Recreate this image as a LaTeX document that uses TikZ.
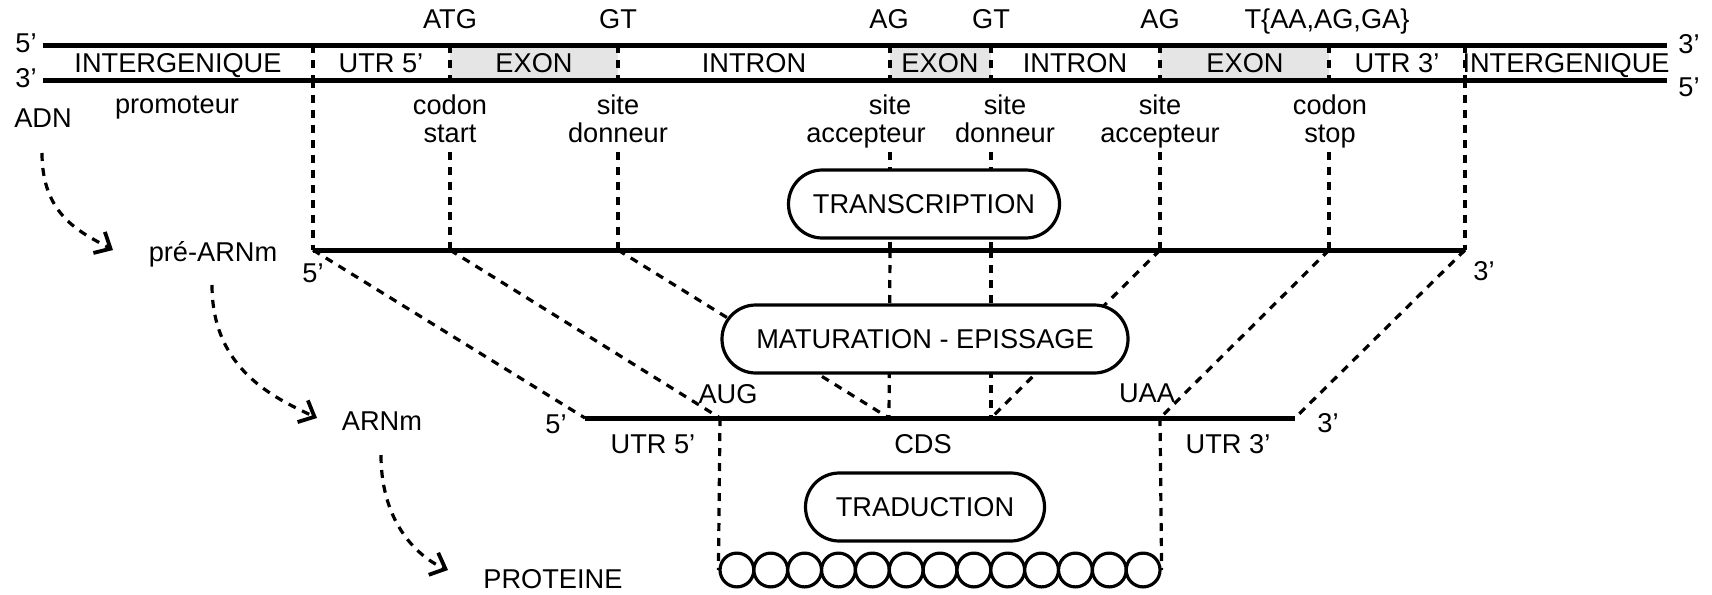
\documentclass[tikz,border=0pt]{standalone}
\usepackage{fontspec}
\setmainfont{Liberation Sans}
\usetikzlibrary{arrows.meta}
\definecolor{exongray}{RGB}{229,229,229}
\begin{document}
\begin{tikzpicture}[x=0.5pt,y=-0.5pt,
  every node/.style={font=\fontsize{13.6}{14}\selectfont, inner sep=0pt},
  lbl/.style={anchor=base, align=center},
  lblw/.style={anchor=base west},
  strand/.style={line width=2.5pt},
  dsh/.style={line width=1.6pt, dash pattern=on 4pt off 3.5pt},
  flow/.style={dsh, -{Straight Barb[length=6.5pt,width=12pt,line width=1.9pt]}},
  proc/.style={draw, line width=1.6pt, fill=white, rounded corners=16.9pt,
    minimum height=34pt, text height=9.8pt, text depth=0pt},
  aa/.style={draw, circle, line width=1.6pt, minimum size=16.9pt, fill=white}
]
\useasboundingbox (0,0) rectangle (1712,594);

% exon shading
\fill[exongray] (450,45) rectangle (618,80);
\fill[exongray] (890,45) rectangle (991,80);
\fill[exongray] (1160,45) rectangle (1329,80);

% coordinates
\foreach \n/\x in {a/313,b/450,c/618,d/890,e/991,f/1160,g/1329,h/1465} {
  \coordinate (top\n) at (\x,45);
  \coordinate (bot\n) at (\x,80);
  \coordinate (lab\n) at (\x,152);
  \coordinate (pre\n) at (\x,250);
}
\coordinate (dnaL5) at (43,45);  \coordinate (dnaR5) at (1667,45);
\coordinate (dnaL3) at (43,80);  \coordinate (dnaR3) at (1667,80);
\coordinate (m1) at (585,418);
\coordinate (m2) at (720,418);
\coordinate (m3) at (889,418);
\coordinate (m4) at (991,418);
\coordinate (m5) at (1160,418);
\coordinate (m6) at (1295,418);

% dashed boundaries inside DNA
\foreach \n in {a,b,c,d,e,f,g,h} { \draw[dsh] (top\n) -- (bot\n); }
% dashed down to pre-mRNA
\draw[dsh] (bota) -- (prea);
\draw[dsh] (both) -- (preh);
\foreach \n in {b,c,d,e,f,g} { \draw[dsh] (lab\n) -- (pre\n); }

% pre-mRNA to mRNA
\draw[dsh] (prea) -- (m1);
\draw[dsh] (preb) -- (m2);
\draw[dsh] (prec) -- (m3);
\draw[dsh] (pred) -- (m3);
\draw[dsh] (pree) -- (m4);
\draw[dsh] (pref) -- (m4);
\draw[dsh] (preg) -- (m5);
\draw[dsh] (preh) -- (m6);

% strands
\draw[strand] (dnaL5) -- (dnaR5);
\draw[strand] (dnaL3) -- (dnaR3);
\draw[strand] (prea) -- (preh);
\draw[strand] (m1) -- (m6);

% process boxes
\node[proc, minimum width=135.5pt] (transc) at (924,204) {TRANSCRIPTION};
\node[proc, minimum width=203pt] (matur) at (925,339) {MATURATION - EPISSAGE};
\node[proc, minimum width=119.5pt] (trad) at (925,507) {TRADUCTION};

% protein
\foreach \k in {1,...,13} {
  \node[aa] (c\k) at ({720+16.92+(\k-1)*33.85},570) {};
}
\draw[dsh] (m2) -- (c1.west);
\draw[dsh] (m5) -- (c13.east);

% strand end labels
\node[lblw] (l5a) at (15,52) {5’};
\node[lblw] (l3a) at (15,87) {3’};
\node[lblw] (r3a) at (1678,54) {3’};
\node[lblw] (r5a) at (1678,96) {5’};
\node[lblw] (p5) at (302,282) {5’};
\node[lblw] (p3) at (1473,280) {3’};
\node[lblw] (a5) at (545,433) {5’};
\node[lblw] (a3) at (1317,432) {3’};

% top sequence labels
\node[lbl] (atg) at (450,28) {ATG};
\node[lbl] (gt1) at (618,28) {GT};
\node[lbl] (ag1) at (889,28) {AG};
\node[lbl] (gt2) at (991,28) {GT};
\node[lbl] (ag2) at (1160,28) {AG};
\node[lbl] (stopseq) at (1327,28) {T\{AA,AG,GA\}};

% region labels
\node[lbl] (ig1) at (178,72) {INTERGENIQUE};
\node[lbl] (utr5) at (381,72) {UTR 5’};
\node[lbl] (ex1) at (534,72) {EXON};
\node[lbl] (in1) at (754,72) {INTRON};
\node[lbl] (ex2) at (940,72) {EXON};
\node[lbl] (in2) at (1075,72) {INTRON};
\node[lbl] (ex3) at (1245,72) {EXON};
\node[lbl] (utr3) at (1397,72) {UTR 3’};
\node[lbl] (ig2) at (1566,72) {INTERGENIQUE};

% site labels (base = last line)
\node[lbl] (adn) at (43,127) {ADN};
\node[lbl] (prom) at (177,113) {promoteur};
\node[lbl] (cstart) at (450,142) {codon\\start};
\node[lbl] (sd1) at (618,142) {site\\donneur};
\node[lbl] (sa1) at (866,142) {\hspace*{24pt}site\\accepteur};
\node[lbl] (sd2) at (1005,142) {site\\donneur};
\node[lbl] (sa2) at (1160,142) {site\\accepteur};
\node[lbl] (cstop) at (1330,142) {codon\\stop};

% molecule names
\node[lbl] (prearn) at (213,261) {pré-ARNm};
\node[lbl] (arnm) at (382,430) {ARNm};
\node[lblw] (prot) at (483,588) {PROTEINE};

% mRNA labels
\node[lbl] (aug) at (728,403) {AUG};
\node[lbl] (uaa) at (1147,402) {UAA};
\node[lbl] (mutr5) at (653,453) {UTR 5’};
\node[lbl] (cds) at (923,453) {CDS};
\node[lbl] (mutr3) at (1228,453) {UTR 3’};

% flow arrows
\coordinate (f1s) at (42,153);  \coordinate (f1e) at (113,250);
\coordinate (f2s) at (212,285); \coordinate (f2e) at (317,418);
\coordinate (f3s) at (381,455); \coordinate (f3e) at (448,570);
\draw[flow] (f1s) .. controls (42,215) and (80,232) .. (f1e);
\draw[flow] (f2s) .. controls (212,370) and (275,398) .. (f2e);
\draw[flow] (f3s) .. controls (381,525) and (420,558) .. (f3e);
\end{tikzpicture}
\end{document}
